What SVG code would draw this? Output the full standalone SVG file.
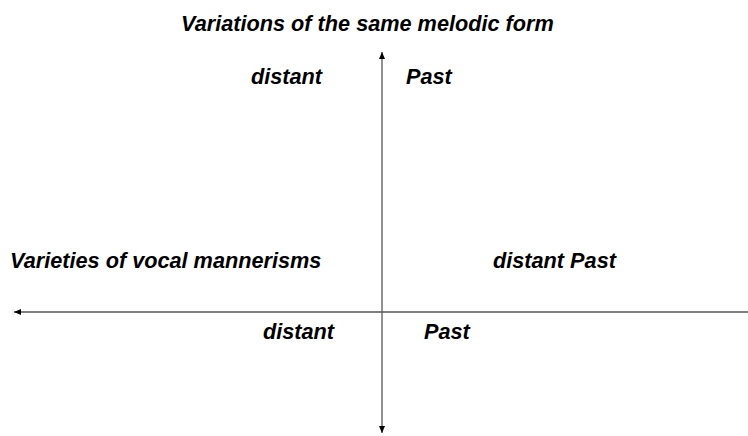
<svg xmlns="http://www.w3.org/2000/svg" width="748" height="436" viewBox="0 0 748 436">
<style>
text{font-family:"Liberation Sans",Arial,sans-serif;font-weight:bold;font-style:italic;font-size:21.7px;fill:#000}
.ax{stroke:#555;stroke-width:1.3;fill:none}
</style>
<defs>
<marker id="ah" markerWidth="8" markerHeight="8" refX="7" refY="4" orient="auto-start-reverse" markerUnits="userSpaceOnUse">
<path d="M0,1 L7,4 L0,7 Z" fill="#000"/>
</marker>
</defs>
<rect width="748" height="436" fill="#fff"/>
<g id="connectors">
<line class="ax" x1="382" y1="433" x2="382" y2="52" marker-start="url(#ah)" marker-end="url(#ah)"/>
<line class="ax" x1="748" y1="312" x2="14" y2="312" marker-end="url(#ah)"/>
</g>
<g id="title"><text x="181" y="31">Variations of the same melodic form</text></g>
<g id="tl"><text x="251" y="84">distant</text></g>
<g id="tr"><text x="406" y="84">Past</text></g>
<g id="left"><text x="10" y="268">Varieties of vocal mannerisms</text></g>
<g id="right"><text x="493" y="268">distant Past</text></g>
<g id="bl"><text x="263" y="339">distant</text></g>
<g id="br"><text x="424" y="339">Past</text></g>
</svg>
